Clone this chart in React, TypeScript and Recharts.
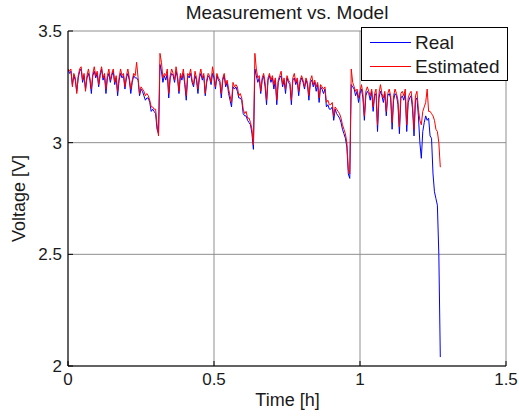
import React from 'react';
import { LineChart, Line, XAxis, YAxis, CartesianGrid } from 'recharts';

const timeH = [
  0, 0.005, 0.01, 0.015, 0.02, 0.025, 0.03, 0.035, 0.04, 0.045,
  0.05, 0.055, 0.06, 0.065, 0.07, 0.075, 0.08, 0.085, 0.09, 0.095,
  0.1, 0.105, 0.11, 0.115, 0.12, 0.125, 0.13, 0.135, 0.14, 0.145,
  0.15, 0.155, 0.16, 0.165, 0.17, 0.175, 0.18, 0.185, 0.19, 0.195,
  0.2, 0.205, 0.21, 0.215, 0.22, 0.225, 0.23, 0.235, 0.24, 0.245,
  0.25, 0.255, 0.26, 0.265, 0.27, 0.275, 0.28, 0.285, 0.29, 0.295,
  0.3, 0.305, 0.31, 0.315, 0.32, 0.325, 0.33, 0.335, 0.34, 0.345,
  0.35, 0.355, 0.36, 0.365, 0.37, 0.375, 0.38, 0.385, 0.39, 0.395,
  0.4, 0.405, 0.41, 0.415, 0.42, 0.425, 0.43, 0.435, 0.44, 0.445,
  0.45, 0.455, 0.46, 0.465, 0.47, 0.475, 0.48, 0.485, 0.49, 0.495,
  0.5, 0.505, 0.51, 0.515, 0.52, 0.525, 0.53, 0.535, 0.54, 0.545,
  0.55, 0.555, 0.56, 0.565, 0.57, 0.575, 0.58, 0.585, 0.59, 0.595,
  0.6, 0.605, 0.61, 0.615, 0.62, 0.625, 0.63, 0.635, 0.64, 0.645,
  0.65, 0.655, 0.66, 0.665, 0.67, 0.675, 0.68, 0.685, 0.69, 0.695,
  0.7, 0.705, 0.71, 0.715, 0.72, 0.725, 0.73, 0.735, 0.74, 0.745,
  0.75, 0.755, 0.76, 0.765, 0.77, 0.775, 0.78, 0.785, 0.79, 0.795,
  0.8, 0.805, 0.81, 0.815, 0.82, 0.825, 0.83, 0.835, 0.84, 0.845,
  0.85, 0.855, 0.86, 0.865, 0.87, 0.875, 0.88, 0.885, 0.89, 0.895,
  0.9, 0.905, 0.91, 0.915, 0.92, 0.925, 0.93, 0.935, 0.94, 0.945,
  0.95, 0.955, 0.96, 0.965, 0.97, 0.975, 0.98, 0.985, 0.99, 0.995,
  1.0, 1.005, 1.01, 1.015, 1.02, 1.025, 1.03, 1.035, 1.04, 1.045,
  1.05, 1.055, 1.06, 1.065, 1.07, 1.075, 1.08, 1.085, 1.09, 1.095,
  1.1, 1.105, 1.11, 1.115, 1.12, 1.125, 1.13, 1.135, 1.14, 1.145,
  1.15, 1.155, 1.16, 1.165, 1.17, 1.175, 1.18, 1.185, 1.19, 1.195,
  1.2, 1.205, 1.21, 1.215, 1.22, 1.225, 1.23, 1.235, 1.24, 1.245,
  1.25, 1.255, 1.26, 1.265, 1.27, 1.275,
];

const realV = [
  3.33, 3.31, 3.32, 3.26, 3.30, 3.28, 3.23, 3.29, 3.32, 3.33,
  3.27, 3.30, 3.24, 3.29, 3.31, 3.28, 3.22, 3.30, 3.32, 3.29,
  3.31, 3.25, 3.30, 3.33, 3.28, 3.30, 3.22, 3.29, 3.31, 3.27,
  3.30, 3.32, 3.26, 3.29, 3.21, 3.28, 3.31, 3.29, 3.30, 3.24,
  3.29, 3.31, 3.28, 3.22, 3.27, 3.30, 3.29, 3.29, 3.28, 3.21,
  3.24, 3.23, 3.21, 3.19, 3.20, 3.20, 3.18, 3.14, 3.15, 3.14,
  3.13, 3.06, 3.04, 3.35, 3.32, 3.27, 3.30, 3.28, 3.31, 3.20,
  3.29, 3.31, 3.30, 3.27, 3.32, 3.29, 3.22, 3.30, 3.28, 3.31,
  3.26, 3.19, 3.30, 3.29, 3.31, 3.27, 3.25, 3.30, 3.28, 3.22,
  3.29, 3.31, 3.28, 3.30, 3.21, 3.27, 3.30, 3.29, 3.26, 3.31,
  3.29, 3.24, 3.30, 3.28, 3.27, 3.20, 3.28, 3.30, 3.25, 3.27,
  3.22, 3.19, 3.16, 3.25, 3.24, 3.25, 3.23, 3.20, 3.20, 3.19,
  3.13, 3.12, 3.12, 3.10, 3.09, 3.08, 3.04, 2.97, 3.33, 3.30,
  3.27, 3.29, 3.22, 3.28, 3.30, 3.25, 3.17, 3.28, 3.30, 3.27,
  3.29, 3.24, 3.28, 3.17, 3.27, 3.29, 3.30, 3.25, 3.28, 3.22,
  3.29, 3.27, 3.26, 3.17, 3.28, 3.29, 3.26, 3.28, 3.21, 3.27,
  3.29, 3.27, 3.24, 3.28, 3.26, 3.19, 3.27, 3.28, 3.25, 3.27,
  3.23, 3.26, 3.18, 3.25, 3.24, 3.22, 3.24, 3.16, 3.17, 3.15,
  3.15, 3.16, 3.10, 3.15, 3.13, 3.12, 3.11, 3.09, 3.06, 3.04,
  3.02, 2.98, 2.86, 2.84, 3.26, 3.25, 3.24, 3.21, 3.23, 3.18,
  3.22, 3.24, 3.20, 3.10, 3.21, 3.23, 3.22, 3.19, 3.23, 3.14,
  3.21, 3.22, 3.05, 3.20, 3.23, 3.21, 3.18, 3.22, 3.12, 3.21,
  3.22, 3.20, 3.06, 3.19, 3.22, 3.21, 3.17, 3.04, 3.20, 3.21,
  3.19, 3.22, 3.05, 3.18, 3.20, 3.21, 3.15, 3.03, 3.19, 3.20,
  3.12, 3.00, 2.93, 3.05, 3.09, 3.12, 3.10, 3.11, 3.03, 3.02,
  2.86, 2.78, 2.75, 2.72, 2.50, 2.04,
];

const estimatedV = [
  3.33, 3.32, 3.33, 3.25, 3.31, 3.29, 3.22, 3.30, 3.33, 3.34,
  3.28, 3.31, 3.23, 3.30, 3.33, 3.29, 3.24, 3.31, 3.34, 3.30,
  3.32, 3.26, 3.31, 3.34, 3.29, 3.31, 3.24, 3.30, 3.33, 3.28,
  3.31, 3.33, 3.27, 3.30, 3.23, 3.29, 3.33, 3.30, 3.31, 3.25,
  3.30, 3.33, 3.29, 3.24, 3.28, 3.31, 3.30, 3.36, 3.29, 3.22,
  3.25, 3.24, 3.23, 3.21, 3.22, 3.21, 3.19, 3.16, 3.16, 3.15,
  3.15, 3.08, 3.03, 3.40, 3.36, 3.29, 3.31, 3.30, 3.33, 3.22,
  3.30, 3.33, 3.31, 3.28, 3.34, 3.30, 3.23, 3.31, 3.29, 3.33,
  3.27, 3.21, 3.31, 3.30, 3.33, 3.28, 3.26, 3.32, 3.29, 3.24,
  3.30, 3.33, 3.29, 3.31, 3.22, 3.28, 3.31, 3.30, 3.27, 3.34,
  3.30, 3.25, 3.31, 3.29, 3.28, 3.22, 3.29, 3.31, 3.26, 3.28,
  3.24, 3.21, 3.18, 3.27, 3.25, 3.26, 3.25, 3.21, 3.22, 3.20,
  3.15, 3.13, 3.14, 3.11, 3.11, 3.09, 3.06, 2.99, 3.40, 3.33,
  3.29, 3.30, 3.23, 3.29, 3.31, 3.27, 3.19, 3.29, 3.31, 3.28,
  3.30, 3.26, 3.29, 3.19, 3.28, 3.30, 3.32, 3.26, 3.29, 3.24,
  3.30, 3.28, 3.27, 3.19, 3.29, 3.31, 3.27, 3.29, 3.23, 3.28,
  3.30, 3.28, 3.25, 3.29, 3.27, 3.21, 3.28, 3.30, 3.26, 3.28,
  3.25, 3.27, 3.20, 3.26, 3.25, 3.24, 3.25, 3.18, 3.19, 3.17,
  3.17, 3.18, 3.12, 3.16, 3.15, 3.14, 3.13, 3.11, 3.08, 3.06,
  3.04, 3.00, 2.88, 2.86, 3.33, 3.27, 3.25, 3.23, 3.24, 3.20,
  3.23, 3.26, 3.22, 3.12, 3.23, 3.25, 3.23, 3.21, 3.24, 3.16,
  3.22, 3.24, 3.08, 3.22, 3.26, 3.22, 3.20, 3.23, 3.14, 3.22,
  3.24, 3.21, 3.09, 3.21, 3.24, 3.22, 3.19, 3.07, 3.22, 3.23,
  3.21, 3.24, 3.08, 3.20, 3.22, 3.23, 3.17, 3.06, 3.21, 3.23,
  3.15, 3.10, 3.08, 3.14, 3.16, 3.18, 3.24, 3.14, 3.14, 3.13,
  3.12, 3.10, 3.06, 3.05, 3.00, 2.89,
];

const xTicks = [0, 0.5, 1, 1.5];
const yTicks = [2, 2.5, 3, 3.5];
const seriesNames = ['Real', 'Estimated'];
const titleText = 'Measurement vs. Model';
const xLabel = 'Time [h]';
const yLabel = 'Voltage [V]';

const data = timeH.map((t, i) => ({ t, real: realV[i], est: estimatedV[i] }));

const FONT = '"Liberation Sans", Arial, Helvetica, sans-serif';

export default function App() {
  return (
    <div style={{ position: 'absolute', left: 0, top: 0, width: 519, height: 417, background: '#fff' }}>
      <LineChart
        width={519}
        height={417}
        data={data}
        margin={{ top: 31, right: 13, left: 0, bottom: 0 }}
        style={{ fontFamily: FONT }}
      >
        <CartesianGrid stroke="#8f8f8f" strokeWidth={1} />
        <XAxis
          dataKey="t"
          type="number"
          domain={[0, 1.5]}
          ticks={xTicks}
          height={51}
          stroke="#000"
          tickSize={-5}
          tickMargin={12}
          tick={{ fill: '#1a1a1a', fontSize: 17, fontFamily: FONT }}
          tickFormatter={(v: number) => String(v)}
          allowDataOverflow
        />
        <XAxis
          xAxisId="top"
          orientation="top"
          type="number"
          domain={[0, 1.5]}
          ticks={xTicks}
          height={0}
          stroke="#000"
          tickSize={-5}
          tick={false}
          allowDataOverflow
        />
        <YAxis
          type="number"
          domain={[2, 3.5]}
          ticks={yTicks}
          width={68}
          stroke="#000"
          tickSize={-5}
          tickMargin={11}
          tick={{ fill: '#1a1a1a', fontSize: 17, fontFamily: FONT }}
          tickFormatter={(v: number) => String(v)}
          allowDataOverflow
        />
        <YAxis
          yAxisId="right"
          orientation="right"
          type="number"
          domain={[2, 3.5]}
          ticks={yTicks}
          width={0}
          stroke="#000"
          tickSize={-5}
          tick={false}
          allowDataOverflow
        />
        <Line
          dataKey="real"
          name={seriesNames[0]}
          stroke="#0000ff"
          strokeWidth={1}
          dot={false}
          activeDot={false}
          isAnimationActive={false}
          type="linear"
        />
        <Line
          dataKey="est"
          name={seriesNames[1]}
          stroke="#ff0000"
          strokeWidth={1}
          dot={false}
          activeDot={false}
          isAnimationActive={false}
          type="linear"
        />
        <text x={287} y={18.5} textAnchor="middle" fontSize={19} fill="#1a1a1a" fontFamily={FONT}>
          {titleText}
        </text>
        <text x={287.5} y={406} textAnchor="middle" fontSize={18} fill="#1a1a1a" fontFamily={FONT}>
          {xLabel}
        </text>
        <text
          x={25}
          y={198.5}
          textAnchor="middle"
          fontSize={18}
          fill="#1a1a1a"
          fontFamily={FONT}
          transform="rotate(-90 25 198.5)"
        >
          {yLabel}
        </text>
        <g>
          <rect x={361.5} y={27.5} width={146} height={53} fill="#fff" stroke="#000" strokeWidth={1} />
          <line x1={370} x2={411} y1={42.5} y2={42.5} stroke="#0000ff" strokeWidth={1} />
          <text x={415} y={49} fontSize={19} fill="#1a1a1a" fontFamily={FONT}>
            {seriesNames[0]}
          </text>
          <line x1={370} x2={411} y1={66.5} y2={66.5} stroke="#ff0000" strokeWidth={1} />
          <text x={415} y={73} fontSize={19} fill="#1a1a1a" fontFamily={FONT}>
            {seriesNames[1]}
          </text>
        </g>
      </LineChart>
    </div>
  );
}
